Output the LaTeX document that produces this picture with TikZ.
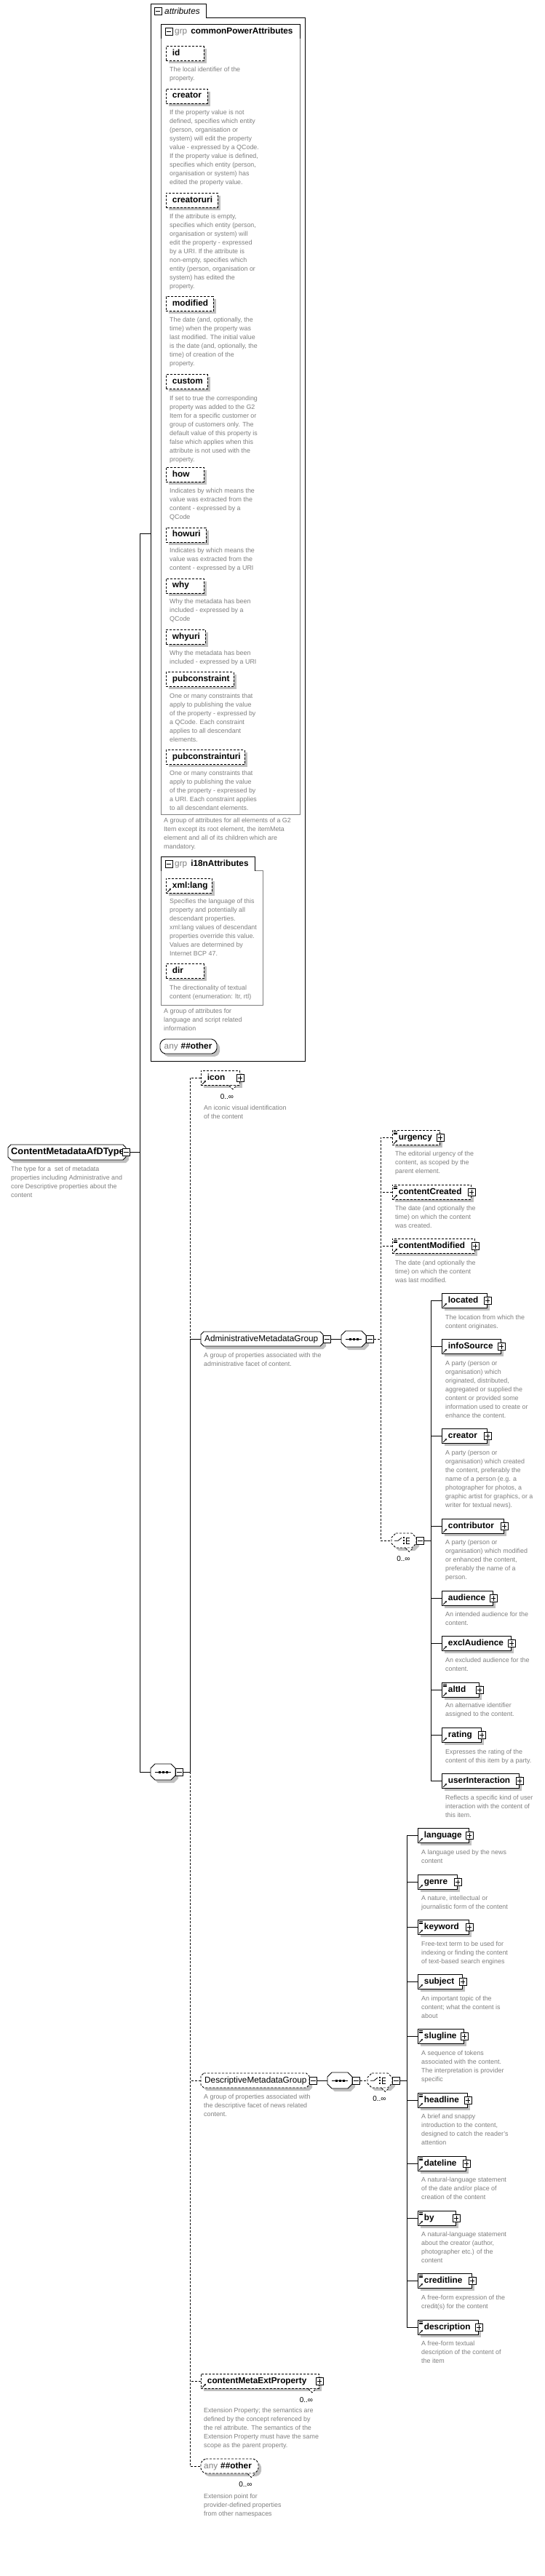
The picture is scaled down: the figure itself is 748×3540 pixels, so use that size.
\documentclass[tikz,border=0pt]{standalone}
\usepackage{fontspec}
\setmainfont{Liberation Sans}
\usetikzlibrary{arrows.meta}
\definecolor{shadowgray}{RGB}{192,192,192}
\definecolor{descgray}{RGB}{128,128,128}
\definecolor{grpgray}{RGB}{128,128,128}
\definecolor{bodygray}{RGB}{128,128,128}
\tikzset{
  ln/.style={line width=0.9pt},
  dsh/.style={line width=0.9pt,dash pattern=on 3pt off 2pt},
  opt/.style={dash pattern=on 3pt off 2pt},
  eb/.style={rectangle,draw,fill=white,line width=0.9pt,anchor=north west,minimum height=20pt,inner xsep=8.5pt,inner ysep=0pt,text height=8.4pt,text depth=2.6pt,align=left,font=\fontsize{11.8}{14}\selectfont\bfseries},
  dsc/.style={anchor=north west,inner sep=0pt,align=left,text=descgray,font=\fontsize{8.9}{12}\selectfont},
  icn/.style={rectangle,draw,fill=white,line width=0.8pt,minimum size=10pt,inner sep=0pt},
  lbl/.style={anchor=west,inner sep=0pt,font=\fontsize{11.8}{14}\selectfont},
}
\newcommand{\octo}[6]{\path[#1] (#2+#6,#3) -- (#4-#6,#3) -- (#4,#3+#6) -- (#4,#5-#6) -- (#4-#6,#5) -- (#2+#6,#5) -- (#2,#5-#6) -- (#2,#3+#6) -- cycle;}
\newcommand{\onode}[7]{%
  \octo{fill=shadowgray,shift={(4pt,-4pt)},#7}{#2}{#3}{#4}{#5}{#6}%
  \octo{draw,fill=white,line width=0.9pt,#7}{#2}{#3}{#4}{#5}{#6}%
  \pgfmathsetmacro\ow{#4-#2}\pgfmathsetmacro\oh{#5-#3}%
  \node[inner sep=0pt,minimum width=\ow pt,minimum height=\oh pt,anchor=north west] (#1) at (#2,#3) {};}
\newcommand{\elm}[6][]{%
  \fill[shadowgray] (#3+4,#4+4) rectangle (#5+4,#4+24);%
  \pgfmathsetmacro\tw{#5-#3-17}%
  \node[eb,text width=\tw pt,#1] (#2) at (#3,#4) {#6};}
\newcommand{\mline}[1]{\draw[line width=0.8pt] ([xshift=2pt]#1.west) -- ([xshift=-2pt]#1.east);}
\newcommand{\minusr}[1]{\node[icn,anchor=west] (#1-m) at (#1.east) {};\mline{#1-m}}
\newcommand{\minusc}[1]{\node[icn] (#1-m) at (#1.east) {};\mline{#1-m}}
\newcommand{\plusc}[1]{\node[icn] (#1-p) at (#1.east) {};\mline{#1-p}\draw[line width=0.8pt] ([yshift=-2pt]#1-p.north) -- ([yshift=2pt]#1-p.south);}
\newcommand{\refa}[1]{\draw[line width=0.9pt,-{Stealth[length=3pt,width=3pt]}] ([shift={(2pt,2pt)}]#1.south west) -- ([shift={(7pt,7pt)}]#1.south west);}
\newcommand{\attri}[1]{\foreach \dd in {2,3.8,5.6}{\draw[line width=0.6pt] ([shift={(1.5pt,-\dd pt)}]#1.north west) -- ++(5,0);}}
\newcommand{\mult}[2][]{\draw[line width=0.8pt,fill=white,#1] ([xshift=-15pt]#2.south east) -- ([shift={(-10pt,-5pt)}]#2.south east) -- ([xshift=-5pt]#2.south east);\node[inner sep=0pt,font=\fontsize{10}{12}\selectfont] (#2-mu) at ([shift={(-18pt,-15pt)}]#2.south east) {0..∞};}
\newcommand{\dsc}[4]{\node[dsc] (#1) at (#2,#3-5) {\rule{0pt}{7pt}#4};}
\newcommand{\seqicon}[1]{\draw[line width=0.9pt] ([xshift=6pt]#1.west) -- ([xshift=-6pt]#1.east);\foreach \dx in {-5,0,5}{\fill ([xshift=\dx pt]#1.center) +(-1.5pt,-1.5pt) rectangle +(1.5pt,1.5pt);}}
\newcommand{\choiceicon}[1]{%
 \draw[line width=0.8pt] ([xshift=4pt]#1.west) -- ([xshift=9pt]#1.west) -- ([shift={(14pt,4pt)}]#1.west);%
 \foreach \dy in {-4,0,4}{\fill ([shift={(17pt,\dy pt)}]#1.west) +(-1.2pt,-1.2pt) rectangle +(1.2pt,1.2pt);}%
 \draw[line width=0.8pt] ([shift={(20pt,4pt)}]#1.west) -- ([shift={(20pt,-4pt)}]#1.west);%
 \foreach \dy in {-4,0,4}{\draw[line width=0.8pt] ([shift={(20pt,\dy pt)}]#1.west) -- ++(5,0);}}
\begin{document}
\begin{tikzpicture}[x=1pt,y=-1pt]
\useasboundingbox (0,0) rectangle (748,3540);
\fill[white] (0,0) rectangle (748,3540);

% ---------- attributes container ----------
\draw[ln] (207,1458) -- (207,5.4) -- (283,5.4) -- (283,24.5) -- (419,24.5) -- (419,1458) -- cycle;
\node[icn] (attr-m) at (217,15) {}; \mline{attr-m}
\node[lbl,font=\fontsize{11.8}{14}\selectfont\itshape] (attr-t) at (226,15) {attributes};

% commonPowerAttributes
\draw[line width=0.8pt,bodygray] (221,53.2) -- (221,1119) -- (412,1119) -- (412,53.2);
\draw[ln] (221,53.2) -- (221,33.5) -- (412,33.5) -- (412,53.2);
\node[icn] (cpa-m) at (232,43.4) {}; \mline{cpa-m}
\node[lbl] (cpa-t) at (240,43.4) {\textcolor{grpgray}{grp}\hspace{5pt}\textbf{commonPowerAttributes}};

\elm[opt]{a-id}{228}{63.3}{280}{id}
\dsc{d-a-id}{233}{96.4}{The local identifier of the\\property.}
\elm[opt]{a-creator}{228}{121.6}{285}{creator}
\dsc{d-a-creator}{233}{155.4}{If the property value is not\\defined, specifies which entity\\(person, organisation or\\system) will edit the property\\value - expressed by a QCode.\\If the property value is defined,\\specifies which entity (person,\\organisation or system) has\\edited the property value.}
\elm[opt]{a-creatoruri}{228}{264.7}{299}{creatoruri}
\dsc{d-a-creatoruri}{233}{298.2}{If the attribute is empty,\\specifies which entity (person,\\organisation or system) will\\edit the property - expressed\\by a URI. If the attribute is\\non-empty, specifies which\\entity (person, organisation or\\system) has edited the\\property.}
\elm[opt]{a-modified}{228}{407.2}{293}{modified}
\dsc{d-a-modified}{233}{440.6}{The date (and, optionally, the\\time) when the property was\\last modified. The initial value\\is the date (and, optionally, the\\time) of creation of the\\property.}
\elm[opt]{a-custom}{228}{514.4}{285}{custom}
\dsc{d-a-custom}{233}{548.6}{If set to true the corresponding\\property was added to the G2\\Item for a specific customer or\\group of customers only. The\\default value of this property is\\false which applies when this\\attribute is not used with the\\property.}
\elm[opt]{a-how}{228}{641.7}{280}{how}
\dsc{d-a-how}{233}{674.8}{Indicates by which means the\\value was extracted from the\\content - expressed by a\\QCode}
\elm[opt]{a-howuri}{228}{724.5}{283}{howuri}
\dsc{d-a-howuri}{233}{757.6}{Indicates by which means the\\value was extracted from the\\content - expressed by a URI}
\elm[opt]{a-why}{228}{794.6}{280}{why}
\dsc{d-a-why}{233}{827.7}{Why the metadata has been\\included - expressed by a\\QCode}
\elm[opt]{a-whyuri}{228}{864.7}{282}{whyuri}
\dsc{d-a-whyuri}{233}{898.2}{Why the metadata has been\\included - expressed by a URI}
\elm[opt]{a-pubc}{228}{923.4}{321}{pubconstraint}
\dsc{d-a-pubc}{233}{957.2}{One or many constraints that\\apply to publishing the value\\of the property - expressed by\\a QCode. Each constraint\\applies to all descendant\\elements.}
\elm[opt]{a-pubcuri}{228}{1030.2}{336}{pubconstrainturi}
\dsc{d-a-pubcuri}{233}{1063.7}{One or many constraints that\\apply to publishing the value\\of the property - expressed by\\a URI. Each constraint applies\\to all descendant elements.}
\dsc{d-cpa}{225}{1128.3}{A group of attributes for all elements of a G2\\Item except its root element, the itemMeta\\element and all of its children which are\\mandatory.}

% i18nAttributes
\draw[line width=0.8pt,bodygray] (221,1196.7) -- (221,1381) -- (361,1381) -- (361,1196.7) -- (350,1196.7);
\draw[ln] (221,1196.7) -- (221,1177.7) -- (350,1177.7) -- (350,1196.7);
\node[icn] (i18n-m) at (232,1187.2) {}; \mline{i18n-m}
\node[lbl] (i18n-t) at (240,1187.2) {\textcolor{grpgray}{grp}\hspace{5pt}\textbf{i18nAttributes}};
\elm[opt]{a-xmllang}{228}{1207}{291}{xml:lang}
\refa{a-xmllang}
\dsc{d-a-xmllang}{233}{1239.3}{Specifies the language of this\\property and potentially all\\descendant properties.\\xml:lang values of descendant\\properties override this value.\\Values are determined by\\Internet BCP 47.}
\elm[opt]{a-dir}{228}{1324.3}{280}{dir}
\dsc{d-a-dir}{233}{1358.3}{The directionality of textual\\content (enumeration: ltr, rtl)}
\dsc{d-i18n}{225}{1390.7}{A group of attributes for\\language and script related\\information}

\onode{any1}{220}{1428}{298}{1448}{5}{rounded corners=2pt}
\node[lbl] (any1-l) at (225.5,1438) {\textcolor{grpgray}{any}\hspace{4pt}\textbf{\#\#other}};

% ---------- type ----------
\onode{type}{11}{1573}{173}{1594}{4}{}
\node[lbl,font=\fontsize{12.8}{15}\selectfont\bfseries] (type-l) at (15,1583.5) {ContentMetadataAfDType};
\minusc{type}
\dsc{d-type}{15}{1607}{The type for a\ \ set of metadata\\properties including Administrative and\\core Descriptive properties about the\\content}

% ---------- main sequence ----------
\onode{mseq}{207}{2424}{241}{2446}{6}{}
\seqicon{mseq}
\minusr{mseq}

% icon
\elm[opt]{icon}{276}{1471}{329}{icon}
\refa{icon}\plusc{icon}\mult[opt]{icon}
\dsc{d-icon}{280}{1523}{An iconic visual identification\\of the content}

% ---------- Administrative ----------
\onode{admin}{276}{1830}{444}{1850}{4}{}
\node[lbl] (admin-l) at (281,1840) {AdministrativeMetadataGroup};
\minusr{admin}
\dsc{d-admin}{280}{1863}{A group of properties associated with the\\administrative facet of content.}
\onode{aseq}{469}{1829}{503}{1851}{6}{}
\seqicon{aseq}
\minusr{aseq}

\elm[opt]{urgency}{539}{1553}{604}{urgency}
\attri{urgency}\refa{urgency}\plusc{urgency}
\dsc{d-urgency}{543}{1586}{The editorial urgency of the\\content, as scoped by the\\parent element.}
\elm[opt]{ccreated}{539}{1628}{647}{contentCreated}
\attri{ccreated}\refa{ccreated}\plusc{ccreated}
\dsc{d-ccreated}{543}{1661}{The date (and optionally the\\time) on which the content\\was created.}
\elm[opt]{cmod}{539}{1702}{652}{contentModified}
\attri{cmod}\refa{cmod}\plusc{cmod}
\dsc{d-cmod}{543}{1736}{The date (and optionally the\\time) on which the content\\was last modified.}

\onode{achoice}{538}{2107}{572}{2127}{6}{opt}
\choiceicon{achoice}
\minusr{achoice}
\mult[opt]{achoice}

\elm{located}{607}{1777}{669}{located}
\refa{located}\plusc{located}
\dsc{d-located}{612}{1811}{The location from which the\\content originates.}
\elm{infosrc}{607}{1840}{688}{infoSource}
\refa{infosrc}\plusc{infosrc}
\dsc{d-infosrc}{612}{1874}{A party (person or\\organisation) which\\originated, distributed,\\aggregated or supplied the\\content or provided some\\information used to create or\\enhance the content.}
\elm{creator}{607}{1963}{669}{creator}
\refa{creator}\plusc{creator}
\dsc{d-creator}{612}{1997}{A party (person or\\organisation) which created\\the content, preferably the\\name of a person (e.g. a\\photographer for photos, a\\graphic artist for graphics, or a\\writer for textual news).}
\elm{contrib}{607}{2087}{692}{contributor}
\refa{contrib}\plusc{contrib}
\dsc{d-contrib}{612}{2120}{A party (person or\\organisation) which modified\\or enhanced the content,\\preferably the name of a\\person.}
\elm{audience}{607}{2186}{677}{audience}
\refa{audience}\plusc{audience}
\dsc{d-audience}{612}{2219}{An intended audience for the\\content.}
\elm{exclaud}{607}{2248}{702}{exclAudience}
\refa{exclaud}\plusc{exclaud}
\dsc{d-exclaud}{612}{2282}{An excluded audience for the\\content.}
\elm{altid}{607}{2312}{658}{altId}
\attri{altid}\refa{altid}\plusc{altid}
\dsc{d-altid}{612}{2344}{An alternative identifier\\assigned to the content.}
\elm{rating}{607}{2374}{661}{rating}
\refa{rating}\plusc{rating}
\dsc{d-rating}{612}{2408}{Expresses the rating of the\\content of this item by a party.}
\elm{uinter}{607}{2437}{713}{userInteraction}
\refa{uinter}\plusc{uinter}
\dsc{d-uinter}{612}{2471}{Reflects a specific kind of user\\interaction with the content of\\this item.}

% ---------- Descriptive ----------
\onode{dgrp}{276}{2849}{425}{2869}{4}{opt}
\node[lbl] (dgrp-l) at (281,2859) {DescriptiveMetadataGroup};
\minusr{dgrp}
\dsc{d-dgrp}{280}{2882}{A group of properties associated with\\the descriptive facet of news related\\content.}
\onode{dseq}{450}{2848}{484}{2870}{6}{}
\seqicon{dseq}
\minusr{dseq}
\onode{dchoice}{505}{2849}{539}{2869}{6}{opt}
\choiceicon{dchoice}
\minusr{dchoice}
\mult[opt]{dchoice}

\elm{language}{574}{2512}{644}{language}
\refa{language}\plusc{language}
\dsc{d-language}{579}{2546}{A language used by the news\\content}
\elm{genre}{574}{2576}{628}{genre}
\refa{genre}\plusc{genre}
\dsc{d-genre}{579}{2609}{A nature, intellectual or\\journalistic form of the content}
\elm{keyword}{574}{2638}{644}{keyword}
\attri{keyword}\refa{keyword}\plusc{keyword}
\dsc{d-keyword}{579}{2672}{Free-text term to be used for\\indexing or finding the content\\of text-based search engines}
\elm{subject}{574}{2713}{635}{subject}
\refa{subject}\plusc{subject}
\dsc{d-subject}{579}{2747}{An important topic of the\\content; what the content is\\about}
\elm{slugline}{574}{2788}{637}{slugline}
\attri{slugline}\refa{slugline}\plusc{slugline}
\dsc{d-slugline}{579}{2822}{A sequence of tokens\\associated with the content.\\The interpretation is provider\\specific}
\elm{headline}{574}{2876}{642}{headline}
\attri{headline}\refa{headline}\plusc{headline}
\dsc{d-headline}{579}{2909}{A brief and snappy\\introduction to the content,\\designed to catch the reader's\\attention}
\elm{dateline}{574}{2963}{640}{dateline}
\attri{dateline}\refa{dateline}\plusc{dateline}
\dsc{d-dateline}{579}{2996}{A natural-language statement\\of the date and/or place of\\creation of the content}
\elm{by}{574}{3038}{626}{by}
\attri{by}\refa{by}\plusc{by}
\dsc{d-by}{579}{3071}{A natural-language statement\\about the creator (author,\\photographer etc.) of the\\content}
\elm{creditline}{574}{3124}{648}{creditline}
\attri{creditline}\refa{creditline}\plusc{creditline}
\dsc{d-creditline}{579}{3158}{A free-form expression of the\\credit(s) for the content}
\elm{descr}{574}{3188}{657}{description}
\attri{descr}\refa{descr}\plusc{descr}
\dsc{d-descr}{579}{3221}{A free-form textual\\description of the content of\\the item}

% ---------- extension ----------
\elm[opt]{ext}{276}{3262}{438}{contentMetaExtProperty}
\refa{ext}\plusc{ext}\mult[opt]{ext}
\dsc{d-ext}{280}{3313}{Extension Property; the semantics are\\defined by the concept referenced by\\the rel attribute. The semantics of the\\Extension Property must have the same\\scope as the parent property.}
\onode{any2}{276}{3379}{355}{3399}{5}{opt,rounded corners=2pt}
\node[lbl] (any2-l) at (280,3389) {\textcolor{grpgray}{any}\hspace{4pt}\textbf{\#\#other}};
\mult[opt]{any2}
\dsc{d-any2}{280}{3431}{Extension point for\\provider-defined properties\\from other namespaces}

% ---------- connectors ----------
\coordinate (b1x) at (192,0);
\coordinate (b2x) at (261,0);
\coordinate (b3x) at (523,0);
\coordinate (b4x) at (592,0);
\coordinate (b5x) at (559,0);
\coordinate (attrL) at (207,733.5);

\draw[ln] (type-m.east) -- (type-m.east -| b1x);
\draw[ln] (attrL) -- (attrL -| b1x) -- (mseq.west -| b1x) -- (mseq.west);

\draw[dsh] (icon.west) -- (icon.west -| b2x) -- (admin.west -| b2x);
\draw[ln] (admin.west) -- (admin.west -| b2x) -- (mseq-m.east -| b2x) -- (mseq-m.east);
\draw[dsh] (mseq-m.east -| b2x) -- (any2.west -| b2x) -- (any2.west);
\draw[dsh] (dgrp.west) -- (dgrp.west -| b2x);
\draw[dsh] (ext.west) -- (ext.west -| b2x);

\draw[ln] (admin-m.east) -- (aseq.west);
\draw[dsh] (aseq-m.east) -- (aseq-m.east -| b3x);
\draw[dsh] (urgency.west) -- (urgency.west -| b3x) -- (achoice.west -| b3x) -- (achoice.west);
\draw[dsh] (ccreated.west) -- (ccreated.west -| b3x);
\draw[dsh] (cmod.west) -- (cmod.west -| b3x);

\draw[ln] (achoice-m.east) -- (achoice-m.east -| b4x);
\draw[ln] (located.west) -- (located.west -| b4x) -- (uinter.west -| b4x) -- (uinter.west);
\foreach \n in {infosrc,creator,contrib,audience,exclaud,altid,rating}{\draw[ln] (\n.west) -- (\n.west -| b4x);}

\draw[ln] (dgrp-m.east) -- (dseq.west);
\draw[dsh] (dseq-m.east) -- (dchoice.west);
\draw[ln] (dchoice-m.east) -- (dchoice-m.east -| b5x);
\draw[ln] (language.west) -- (language.west -| b5x) -- (descr.west -| b5x) -- (descr.west);
\foreach \n in {genre,keyword,subject,slugline,headline,dateline,by,creditline}{\draw[ln] (\n.west) -- (\n.west -| b5x);}
\end{tikzpicture}
\end{document}
